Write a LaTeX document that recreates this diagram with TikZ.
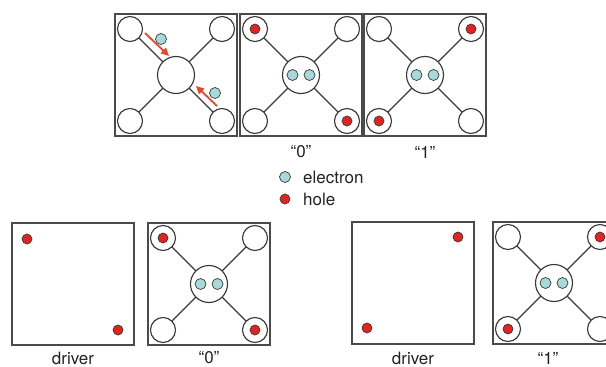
\documentclass[tikz,border=0pt]{standalone}
\usepackage{fontspec}
\setmainfont{TeX Gyre Heros}
\usetikzlibrary{arrows.meta}
\definecolor{holec}{HTML}{E3231E}
\definecolor{elecc}{HTML}{A6D9D9}
\definecolor{edgec}{HTML}{3A3A3A}
\definecolor{boxc}{HTML}{4A4A4A}
\definecolor{arrc}{HTML}{E8452C}
\definecolor{txtc}{HTML}{222222}
\tikzset{
 cellbox/.style={draw=boxc, line width=1.4pt, minimum size=122pt, inner sep=0pt, outer sep=0pt},
 site/.style={circle, draw=edgec, line width=1.15pt, minimum size=25pt, inner sep=0pt, outer sep=0pt, fill=white},
 hub/.style={circle, draw=edgec, line width=1.15pt, minimum size=37pt, inner sep=0pt, outer sep=0pt, fill=white},
 holedot/.style={circle, draw=edgec, fill=holec, line width=0.7pt, minimum size=10pt, inner sep=0pt},
 elecdot/.style={circle, draw=edgec, fill=elecc, line width=0.7pt, minimum size=11pt, inner sep=0pt},
 bond/.style={draw=edgec, line width=1.15pt},
 lbl/.style={font=\fontsize{17}{20}\selectfont, text=txtc, inner sep=0pt},
 flow/.style={draw=arrc, line width=1.8pt, -{Triangle[length=8pt,width=7.5pt]}},
}
\newcommand\qcell[3]{%
 \node[cellbox] (#1box) at (#2,#3) {};
 \node[site] (#1tl) at ({#2-46},{#3-46}) {};
 \node[site] (#1tr) at ({#2+46},{#3-46}) {};
 \node[site] (#1bl) at ({#2-46},{#3+46}) {};
 \node[site] (#1br) at ({#2+46},{#3+46}) {};
 \node[hub] (#1c) at (#2,#3) {};
 \draw[bond] (#1c) -- (#1tl);
 \draw[bond] (#1c) -- (#1tr);
 \draw[bond] (#1c) -- (#1bl);
 \draw[bond] (#1c) -- (#1br);
}
\newcommand\qpair[3]{%
 \node[elecdot] (#1e1) at ({#2-8.5},#3) {};
 \node[elecdot] (#1e2) at ({#2+8.5},#3) {};
}
\begin{document}
\begin{tikzpicture}[x=1pt,y=-1pt]
\useasboundingbox (0,0) rectangle (606,367);
% top row
\qcell{a}{176}{75}
\node[elecdot] (ae1) at (161,39) {};
\node[elecdot] (ae2) at (215,93) {};
\coordinate (aa1) at (145,33);
\coordinate (aa2) at (169,56);
\coordinate (ab1) at (217,106);
\coordinate (ab2) at (196,86);
\draw[flow] (aa1) -- (aa2);
\draw[flow] (ab1) -- (ab2);

\qcell{b}{301}{75}
\qpair{b}{301}{75}
\node[holedot] (bh1) at (btl) {};
\node[holedot] (bh2) at (bbr) {};
\node[lbl] (bl) at (301,152) {``0''};

\qcell{c}{425}{75}
\qpair{c}{425}{75}
\node[holedot] (ch1) at (ctr) {};
\node[holedot] (ch2) at (cbl) {};
\node[lbl] (cl) at (425,152) {``1''};

% legend
\node[elecdot] (le) at (285,177) {};
\node[lbl, anchor=west] (let) at (303,177) {electron};
\node[holedot] (lh) at (285,199) {};
\node[lbl, anchor=west] (lht) at (303,199) {hole};

% bottom row
\node[cellbox] (d1) at (73,284) {};
\node[holedot] (d1a) at (27,239) {};
\node[holedot] (d1b) at (118,330) {};
\node[lbl] (d1l) at (73,358) {driver};

\qcell{e}{209}{284}
\qpair{e}{209}{284}
\node[holedot] (eh1) at (etl) {};
\node[holedot] (eh2) at (ebr) {};
\node[lbl] (el) at (209,358) {``0''};

\node[cellbox] (d2) at (413,283) {};
\node[holedot] (d2a) at (458,237) {};
\node[holedot] (d2b) at (367,328) {};
\node[lbl] (d2l) at (413,358) {driver};

\qcell{f}{554}{283}
\qpair{f}{554}{283}
\node[holedot] (fh1) at (ftr) {};
\node[holedot] (fh2) at (fbl) {};
\node[lbl] (fl) at (548,358) {``1''};
\end{tikzpicture}
\end{document}
